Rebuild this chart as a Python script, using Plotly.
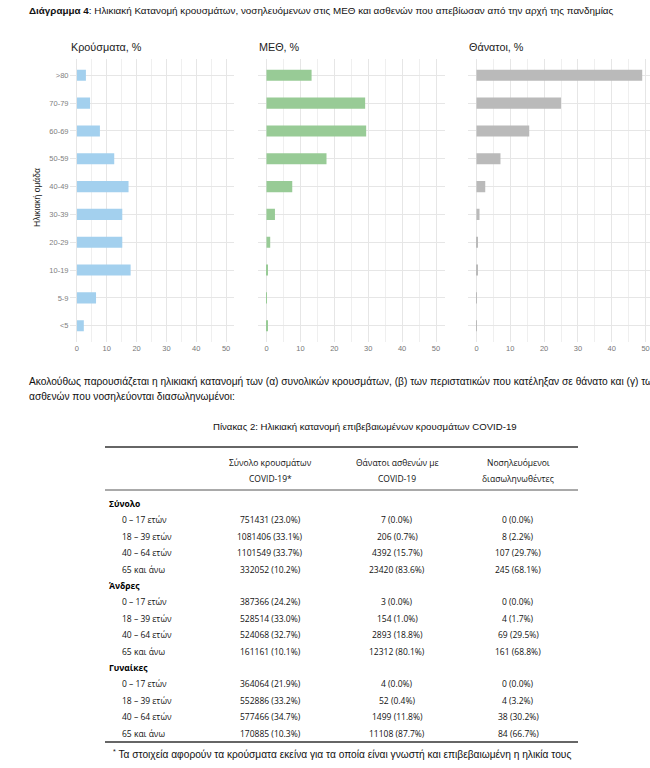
import plotly.graph_objects as go

W, H = 650, 768

# ---------------- data ----------------
age_groups = ["<5", "5-9", "10-19", "20-29", "30-39", "40-49", "50-59", "60-69", "70-79", ">80"]
cases_pct = [2.3, 6.4, 18.0, 15.2, 15.2, 17.3, 12.5, 7.7, 4.4, 3.0]
icu_pct = [0.3, 0.1, 0.3, 1.1, 2.5, 7.6, 17.7, 29.4, 29.1, 13.3]
deaths_pct = [0.1, 0.05, 0.2, 0.2, 0.9, 2.6, 7.1, 15.6, 25.0, 49.0]
x_ticks = [0, 10, 20, 30, 40, 50]

panel_titles = ["Κρούσματα, %", "ΜΕΘ, %", "Θάνατοι, %"]
y_title = "Ηλικιακή ομάδα"

heading = "<b>Διάγραμμα 4</b>: Ηλικιακή Κατανομή κρουσμάτων, νοσηλευόμενων στις ΜΕΘ και ασθενών που απεβίωσαν από την αρχή της πανδημίας"
para_lines = [
    "Ακολούθως παρουσιάζεται η ηλικιακή κατανομή των (α) συνολικών κρουσμάτων, (β) των περιστατικών που κατέληξαν σε θάνατο και (γ) των",
    "ασθενών που νοσηλεύονται διασωληνωμένοι:",
]
table_title = "Πίνακας 2: Ηλικιακή κατανομή επιβεβαιωμένων κρουσμάτων COVID-19"

header_line1 = ["Σύνολο κρουσμάτων", "Θάνατοι ασθενών με", "Νοσηλευόμενοι"]
header_line2 = ["COVID-19*", "COVID-19", "διασωληνωθέντες"]

groups = ["Σύνολο", "Άνδρες", "Γυναίκες"]
age_rows = ["0 – 17 ετών", "18 – 39 ετών", "40 – 64 ετών", "65 και άνω"]

cases_n = [[751431, 1081406, 1101549, 332052],
           [387366, 528514, 524068, 161161],
           [364064, 552886, 577466, 170885]]
cases_p = [[23.0, 33.1, 33.7, 10.2],
           [24.2, 33.0, 32.7, 10.1],
           [21.9, 33.2, 34.7, 10.3]]
deaths_n = [[7, 206, 4392, 23420],
            [3, 154, 2893, 12312],
            [4, 52, 1499, 11108]]
deaths_p = [[0.0, 0.7, 15.7, 83.6],
            [0.0, 1.0, 18.8, 80.1],
            [0.0, 0.4, 11.8, 87.7]]
intub_n = [[0, 8, 107, 245],
           [0, 4, 69, 161],
           [0, 4, 38, 84]]
intub_p = [[0.0, 2.2, 29.7, 68.1],
           [0.0, 1.7, 29.5, 68.8],
           [0.0, 3.2, 30.2, 66.7]]

footnote = "Τα στοιχεία αφορούν τα κρούσματα εκείνα για τα οποία είναι γνωστή και επιβεβαιωμένη η ηλικία τους"

# ---------------- styling ----------------
colors = ["#a3d0ee", "#98cb96", "#bababa"]
chart_font = "Liberation Sans, Arial, sans-serif"
narrow_font = "Liberation Sans Narrow, Liberation Sans, Arial, sans-serif"
table_font = "Open Sans, Noto Sans, sans-serif"

def px(x):
    return x / W

def py(y):
    return 1 - y / H

x_domains = [(69.5, 233.5), (258, 444.5), (468, 650)]
x_ranges = [[-2.5, 52.5], [-2.5, 52.5], [-2.5, 51.3]]
y_top, y_bot = 58.6, 342.4

fig = go.Figure()
series = [cases_pct, icu_pct, deaths_pct]
for i, vals in enumerate(series):
    sfx = "" if i == 0 else str(i + 1)
    fig.add_trace(go.Bar(
        x=vals, y=age_groups, orientation="h", width=0.4,
        marker=dict(color=colors[i], line=dict(width=0)),
        xaxis="x" + sfx, yaxis="y" + sfx, showlegend=False,
        hoverinfo="x+y",
    ))
    fig.layout["xaxis" + sfx] = dict(
        domain=[px(x_domains[i][0]), px(x_domains[i][1])],
        range=x_ranges[i], tickvals=x_ticks, ticks="",
        showgrid=True, gridcolor="#e6e6e6", gridwidth=1,
        minor=dict(dtick=5, tick0=0, showgrid=True, gridcolor="#efefef", gridwidth=0.8),
        zeroline=False, showline=False,
        tickfont=dict(family=chart_font, size=7.5, color="#777777"),
        anchor="y" + sfx, fixedrange=True,
    )
    fig.layout["yaxis" + sfx] = dict(
        domain=[py(y_bot), py(y_top)], type="category",
        categoryorder="array", categoryarray=age_groups,
        range=[-0.6, 9.6], ticks="", showgrid=True, gridcolor="#e6e6e6",
        gridwidth=1, zeroline=False, showline=False,
        showticklabels=(i == 0),
        tickfont=dict(family=chart_font, size=7.5, color="#808080"),
        anchor="x" + sfx, fixedrange=True,
    )

ann = []
def add_text(text, x, y, size, family, color="#222222", xanchor="left", yanchor="middle", **kw):
    ann.append(dict(text=text, x=px(x), y=py(y), xref="paper", yref="paper",
                    xanchor=xanchor, yanchor=yanchor, showarrow=False,
                    font=dict(size=size, family=family, color=color), **kw))

# heading
add_text(heading, 27, 10, 9.85, narrow_font, color="#111111")
# panel titles
for t, (x0, _) in zip(panel_titles, x_domains):
    add_text(t, x0 - 1, 47, 10.8, chart_font, color="#222222")
# y title
add_text(y_title, 37, 198, 8.5, chart_font, color="#222222", xanchor="center", textangle=-90)

# paragraph
add_text(para_lines[0], 27, 382, 10.2, narrow_font, color="#111111")
add_text(para_lines[1], 27, 396, 10.2, narrow_font, color="#111111")

# table title
add_text(table_title, 365, 426, 9.6, narrow_font, color="#111111", xanchor="center")

# table header
col_x = [270, 397, 518]
for cx, l1, l2 in zip(col_x, header_line1, header_line2):
    add_text(l1, cx, 462, 8.5, table_font, color="#111111", xanchor="center")
    add_text(l2, cx, 478, 8.5, table_font, color="#111111", xanchor="center")

# table body
row_y0, row_dy = 503.5, 16.4
r = 0
for g, grp in enumerate(groups):
    add_text("<b>" + grp + "</b>", 107, row_y0 + r * row_dy, 8.5, table_font, color="#000000")
    r += 1
    for k, lab in enumerate(age_rows):
        yy = row_y0 + r * row_dy
        add_text(lab, 120, yy, 8.5, table_font, color="#111111")
        add_text(f"{cases_n[g][k]} ({cases_p[g][k]:.1f}%)", col_x[0], yy, 8.5, table_font, color="#111111", xanchor="center")
        add_text(f"{deaths_n[g][k]} ({deaths_p[g][k]:.1f}%)", col_x[1], yy, 8.5, table_font, color="#111111", xanchor="center")
        add_text(f"{intub_n[g][k]} ({intub_p[g][k]:.1f}%)", col_x[2], yy, 8.5, table_font, color="#111111", xanchor="center")
        r += 1

# footnote
add_text("<sup>*</sup> " + footnote, 111, 754, 10.2, narrow_font, color="#111111")

shapes = []
for yy, w, c in [(447, 1.3, "#333333"), (490, 1, "#555555"), (742, 1.3, "#333333")]:
    shapes.append(dict(type="line", xref="paper", yref="paper",
                       x0=px(105), x1=px(578), y0=py(yy), y1=py(yy),
                       line=dict(color=c, width=w)))

fig.update_layout(
    width=W, height=H, margin=dict(l=0, r=0, t=0, b=0),
    paper_bgcolor="white", plot_bgcolor="white",
    annotations=ann, shapes=shapes,
    font=dict(family=chart_font),
)

fig.write_html("out.html", config={"displayModeBar": False},
               post_script="document.body.style.margin='0';document.body.style.overflow='hidden';")
